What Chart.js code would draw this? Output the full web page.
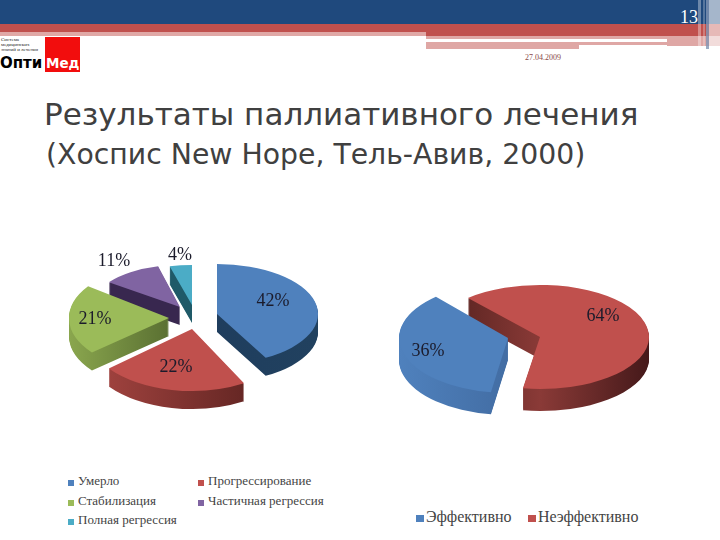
<!DOCTYPE html>
<html>
<head>
<meta charset="utf-8">
<script src="https://cdn.jsdelivr.net/npm/chart.js@4"></script>
<style>
  html, body { margin: 0; padding: 0; background: #fff; }
  #slide { position: relative; width: 720px; height: 540px; overflow: hidden; font-family: "Liberation Serif", serif; }
  .bar { position: absolute; }
  .pageNo { position: absolute; left: 680px; top: 7px; color: #fff; font-size: 18px; }
  .date { position: absolute; left: 525px; top: 53px; color: #8a4a48; font-size: 8px; }
  .logoTxt { position: absolute; left: 1px; font-size: 5px; color: #222; line-height: 5px; white-space: nowrap; }
  .logoRed { position: absolute; left: 45px; top: 37px; width: 35px; height: 35px; background: #f20d0d; }
  .logoA { position: absolute; left: 0; top: 54px; font: bold 15px "DejaVu Sans", sans-serif; color: #000; }
  .logoB { position: absolute; left: 46px; top: 55px; font: bold 13.5px "DejaVu Sans", sans-serif; color: #fff; }
  h1, h2 { position: absolute; margin: 0; font-weight: normal; color: #404040; font-family: "DejaVu Sans", sans-serif; white-space: nowrap; }
  h1 { left: 44px; top: 96px; font-size: 31px; }
  h2 { left: 46px; top: 138px; font-size: 28.3px; }
  canvas { position: absolute; }
  .legend { position: absolute; color: #444; white-space: nowrap; }
  .legend i { position: absolute; }
  .legend span { position: absolute; }
  #legendLeft { font-size: 13px; }
  #legendLeft i { width: 6px; height: 6px; }
  #legendRight { font-size: 16px; }
  #legendRight i { width: 8px; height: 7px; }
</style>
</head>
<body>
<div id="slide">
  <div class="bar" style="left:0;top:0;width:720px;height:24px;background:#1f497d"></div>
  <div class="bar" style="left:0;top:24px;width:720px;height:8px;background:#c0504d"></div>
  <div class="bar" style="left:0;top:32px;width:426px;height:4px;background:#e0a8a6"></div>
  <div class="bar" style="left:426px;top:32px;width:294px;height:4px;background:#c0504d"></div>
  <div class="bar" style="left:426px;top:36px;width:294px;height:3px;background:#dfa7a5"></div>
  <div class="bar" style="left:426px;top:39px;width:241px;height:3px;background:#fff"></div>
  <div class="bar" style="left:426px;top:42px;width:241px;height:3px;background:#dfa7a5"></div>
  <div class="bar" style="left:426px;top:45px;width:153px;height:4px;background:#dfa7a5"></div>
  <div class="bar" style="left:667px;top:39px;width:53px;height:7px;background:#dfa7a5"></div>
  <div class="bar" style="left:698px;top:0;width:3px;height:46px;background:rgba(255,255,255,.35)"></div>
  <div class="bar" style="left:703px;top:0;width:2px;height:46px;background:rgba(255,255,255,.25)"></div>
  <div class="bar" style="left:706px;top:0;width:3px;height:49px;background:rgba(130,150,180,.8)"></div>
  <div class="bar" style="left:709px;top:0;width:11px;height:48px;background:rgba(255,255,255,.6)"></div>
  <div class="pageNo">13</div>
  <div class="date">27.04.2009</div>
  <div class="logoTxt" style="top:37px">Система<br>медицинских<br>знаний и лечения</div>
  <div class="logoRed"></div>
  <div class="logoA">Опти</div>
  <div class="logoB">Мед</div>
  <h1>Результаты паллиативного лечения</h1>
  <h2>(Хоспис New Hope, Тель-Авив, 2000)</h2>
  <canvas id="pieLeft" style="left:43px;top:215px;width:300px;height:200px"></canvas>
  <canvas id="pieRight" style="left:374px;top:245px;width:300px;height:180px"></canvas>
  <div class="legend" id="legendLeft" style="left:0;top:0"></div>
  <div class="legend" id="legendRight" style="left:0;top:0"></div>
</div>
<script>
// значения и подписи
const outcomeLabels = ['Умерло', 'Прогрессирование', 'Стабилизация', 'Частичная регрессия', 'Полная регрессия'];
const outcomeValues = [42, 22, 21, 11, 4];
const effectLabels = ['Эффективно', 'Неэффективно'];
const effectValues = [36, 64];

const BLUE = '#4f81bd', RED = '#c0504d', GREEN = '#9bbb59', PURPLE = '#8064a2', CYAN = '#4bacc6';

// dx,dy - вынос сектора на экране, rx,ry - радиусы эллипса, side - цвет боковой стенки
const leftLook = {
  rotation: 0, depth: 18,
  colors: [BLUE, RED, GREEN, PURPLE, CYAN],
  slices: [
    { dx: 24, dy: -1, rx: 101, ry: 50, side: ['#1d3a5c', '#21415f'] },
    { dx: -1, dy: 14, rx: 108, ry: 62, side: ['#a84642', '#4f1c1a'] },
    { dx: -24, dy: 3, rx: 100, ry: 54, side: ['#8aa64e', '#5a7032', '#566c2f'] },
    { dx: -13, dy: -8, rx: 88, ry: 42, side: ['#38274f', '#38274f'] },
    { dx: -1, dy: -10, rx: 90, ry: 40, side: ['#1f5a68', '#1f5a68'] }
  ],
  marks: [[230, 86], [133, 152], [52, 104], [71, 46], [137, 40]]
};
const rightLook = {
  rotation: 189, depth: 22,
  colors: [BLUE, RED],
  slices: [
    { dx: -16, dy: 3, rx: 109, ry: 55, side: ['#4f81bd', '#36598a'] },
    { dx: 16, dy: 2, rx: 109, ry: 52, side: ['#4f1f1c', '#8a3a37', '#45191a'] }
  ],
  marks: [[54, 106], [229, 71]]
};

function sideFill(ctx, arc, stops) {
  const g = ctx.createLinearGradient(arc.x - arc.outerRadius, 0, arc.x + arc.outerRadius, 0);
  stops.forEach((c, i) => g.addColorStop(stops.length > 1 ? i / (stops.length - 1) : 0, c));
  return g;
}

function placeSlice(ctx, arc, s, drop) {
  ctx.translate(arc.x + s.dx, arc.y + s.dy + drop);
  ctx.scale(s.rx / arc.outerRadius, s.ry / arc.outerRadius);
  ctx.translate(-arc.x, -arc.y);
}

// наклонённый пирог: рисуем сами элементы Chart.js со сжатием и стенкой
const tiltPie = {
  id: 'tiltPie',
  beforeDatasetsDraw(chart, args, look) {
    const ctx = chart.ctx;
    const arcs = chart.getDatasetMeta(0).data;
    const order = arcs.map((a, i) => i).sort((a, b) => {
      const ma = (arcs[a].startAngle + arcs[a].endAngle) / 2;
      const mb = (arcs[b].startAngle + arcs[b].endAngle) / 2;
      return Math.sin(ma) - Math.sin(mb);
    });
    order.forEach(i => {
      const arc = arcs[i], s = look.slices[i];
      const plain = arc.options;
      arc.options = Object.create(plain, { backgroundColor: { value: sideFill(ctx, arc, s.side) } });
      for (let d = look.depth; d >= 1; d--) {
        ctx.save();
        placeSlice(ctx, arc, s, d);
        arc.draw(ctx);
        ctx.restore();
      }
      arc.options = plain;
    });
    arcs.forEach((arc, i) => {
      ctx.save();
      placeSlice(ctx, arc, look.slices[i], 0);
      arc.draw(ctx);
      ctx.restore();
    });
    return false;
  },
  // afterDatasetsDraw не вызывается после return false, поэтому подписи здесь
  afterDraw(chart, args, look) {
    const ctx = chart.ctx;
    ctx.save();
    ctx.font = '18px "Liberation Serif", serif';
    ctx.fillStyle = '#1b1b2b';
    ctx.textAlign = 'center';
    ctx.textBaseline = 'middle';
    chart.data.datasets[0].data.forEach((v, i) => {
      ctx.fillText(v + '%', look.marks[i][0], look.marks[i][1]);
    });
    ctx.restore();
  }
};

function makePie(id, labels, values, look) {
  return new Chart(document.getElementById(id), {
    type: 'pie',
    data: { labels, datasets: [{ data: values, backgroundColor: look.colors, borderWidth: 0 }] },
    options: {
      responsive: false,
      animation: false,
      rotation: look.rotation,
      radius: 100,
      plugins: { legend: { display: false }, tooltip: { enabled: false }, tiltPie: look }
    },
    plugins: [tiltPie]
  });
}

function sizeCanvas(id) {
  const c = document.getElementById(id);
  c.width = parseInt(c.style.width);
  c.height = parseInt(c.style.height);
}

function makeLegend(id, labels, colors, cells) {
  const box = document.getElementById(id);
  labels.forEach((t, i) => {
    const [x, y] = cells[i];
    box.innerHTML += '<i style="left:' + x + 'px;top:' + (y + 5) + 'px;background:' + colors[i] + '"></i>' +
      '<span style="left:' + (x + 10) + 'px;top:' + (y - 2) + 'px">' + t + '</span>';
  });
}

sizeCanvas('pieLeft');
sizeCanvas('pieRight');
makePie('pieLeft', outcomeLabels, outcomeValues, leftLook);
makePie('pieRight', effectLabels, effectValues, rightLook);
makeLegend('legendLeft', outcomeLabels, leftLook.colors, [[68, 475], [198, 475], [68, 495], [198, 495], [68, 514]]);
makeLegend('legendRight', effectLabels, rightLook.colors, [[416, 510], [528, 510]]);
</script>
</body>
</html>
